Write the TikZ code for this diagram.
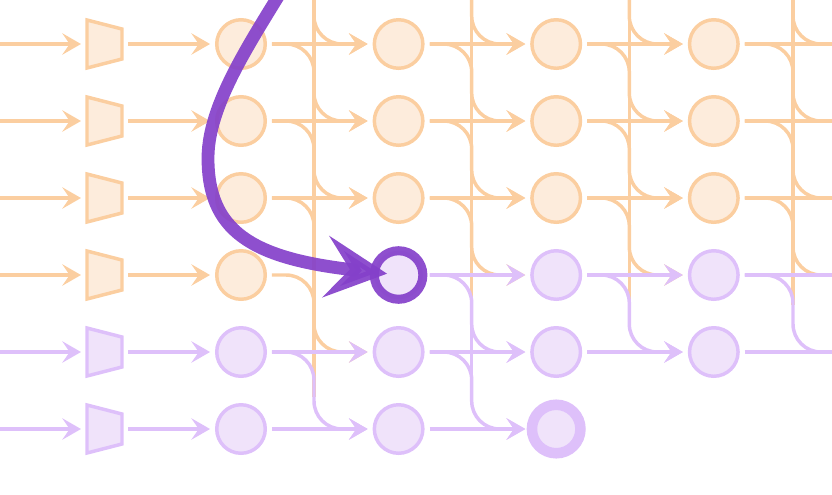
\documentclass[tikz,border=0pt]{standalone}
\usetikzlibrary{arrows.meta}
\definecolor{ostroke}{RGB}{251,206,160}
\definecolor{ofill}{RGB}{253,236,220}
\definecolor{pstroke}{RGB}{222,192,250}
\definecolor{pfill}{RGB}{240,227,250}
\definecolor{dpurple}{RGB}{132,64,202}
\tikzset{
  cbase/.style={circle, minimum size=36.4pt, inner sep=0pt, outer sep=5pt, line width=2.6pt},
  onode/.style={cbase, draw=ostroke, fill=ofill},
  pnode/.style={cbase, draw=pstroke, fill=pfill},
  ringnode/.style={cbase, draw=pstroke, fill=pfill, line width=7.9pt},
  hlnode/.style={cbase, draw=dpurple, draw opacity=0.92, fill=pfill, line width=6.8pt},
  tbox/.style={rectangle, minimum width=26.25pt, minimum height=36pt, inner sep=0pt, outer sep=4.5pt},
  otrapshape/.style={draw=ostroke, fill=ofill, line width=2.6pt, line join=miter},
  ptrapshape/.style={draw=pstroke, fill=pfill, line width=2.6pt, line join=miter},
  conn/.style={line width=2.6pt, -{Stealth[length=14pt,width=16pt,inset=5.5pt]}},
  oarr/.style={conn, draw=ostroke},
  parr/.style={conn, draw=pstroke},
  oline/.style={line width=2.6pt, draw=ostroke},
  pline/.style={line width=2.6pt, draw=pstroke},
  bendy/.style={rounded corners=21pt},
  bigarrow/.style={line width=9.6pt, draw=dpurple, opacity=0.92, line cap=round, -{Stealth[length=46pt,width=46pt,inset=18pt]}, shorten >=8.7pt},
}
\begin{document}
\begin{tikzpicture}[x=0.75pt,y=-0.75pt]
\useasboundingbox (0,0) rectangle (832,494);
\clip (0,0) rectangle (832,494);

% ---------- coordinates ----------
\coordinate (in0) at (-10,44);
\coordinate (in1) at (-10,121);
\coordinate (in2) at (-10,198);
\coordinate (in3) at (-10,275);
\coordinate (in4) at (-10,352);
\coordinate (in5) at (-10,429);
\coordinate (p1) at (260,-33);
\coordinate (p2) at (418,-33);
\coordinate (p3) at (575,-33);
\coordinate (p4) at (733,-33);
\coordinate (c5r0) at (860,44);
\coordinate (c5r1) at (860,121);
\coordinate (c5r2) at (860,198);
\coordinate (c5r3) at (860,275);
\coordinate (c5r4) at (860,352);
\coordinate (v1a) at (314,-5);   \coordinate (v1b) at (314,397);
\coordinate (v2a) at (471.7,-5); \coordinate (v2b) at (471.7,305);
\coordinate (v3a) at (629.3,-5); \coordinate (v3b) at (629.3,305);
\coordinate (v4a) at (793,-5);   \coordinate (v4b) at (793,305);
\coordinate (v2c) at (471.7,300); \coordinate (v2d) at (471.7,405);
\coordinate (bs) at (300,-40);
\coordinate (bm) at (208,158);

% ---------- trapezoids ----------
\node[tbox] (t0) at (104.5,44) {};
\node[tbox] (t1) at (104.5,121) {};
\node[tbox] (t2) at (104.5,198) {};
\node[tbox] (t3) at (104.5,275) {};
\node[tbox] (t4) at (104.5,352) {};
\node[tbox] (t5) at (104.5,429) {};
\foreach \t in {t0,t1,t2,t3}
  \path[otrapshape] (\t.center) ++(-17.5,-24) -- ++(35,9) -- ++(0,30) -- ++(-35,9) -- cycle;
\foreach \t in {t4,t5}
  \path[ptrapshape] (\t.center) ++(-17.5,-24) -- ++(35,9) -- ++(0,30) -- ++(-35,9) -- cycle;

% ---------- circles ----------
\node[onode] (c1r0) at (241,44) {};
\node[onode] (c1r1) at (241,121) {};
\node[onode] (c1r2) at (241,198) {};
\node[onode] (c1r3) at (241,275) {};
\node[pnode] (c1r4) at (241,352) {};
\node[pnode] (c1r5) at (241,429) {};

\node[onode] (c2r0) at (398.6,44) {};
\node[onode] (c2r1) at (398.6,121) {};
\node[onode] (c2r2) at (398.6,198) {};
\node[hlnode] (c2r3) at (398.6,275) {};
\node[pnode] (c2r4) at (398.6,352) {};
\node[pnode] (c2r5) at (398.6,429) {};

\node[onode] (c3r0) at (556.2,44) {};
\node[onode] (c3r1) at (556.2,121) {};
\node[onode] (c3r2) at (556.2,198) {};
\node[pnode] (c3r3) at (556.2,275) {};
\node[pnode] (c3r4) at (556.2,352) {};
\node[ringnode] (c3r5) at (556.2,429) {};

\node[onode] (c4r0) at (713.8,44) {};
\node[onode] (c4r1) at (713.8,121) {};
\node[onode] (c4r2) at (713.8,198) {};
\node[pnode] (c4r3) at (713.8,275) {};
\node[pnode] (c4r4) at (713.8,352) {};

% ---------- orange connectors ----------
\draw[oline] (v1a) -- (v1b);
\draw[oline] (v2a) -- (v2b);
\draw[oline] (v3a) -- (v3b);
\draw[oline] (v4a) -- (v4b);

\draw[oarr] (in0) -- (t0.west);
\draw[oarr] (in1) -- (t1.west);
\draw[oarr] (in2) -- (t2.west);
\draw[oarr] (in3) -- (t3.west);
\draw[oarr] (t0.east) -- (c1r0.west);
\draw[oarr] (t1.east) -- (c1r1.west);
\draw[oarr] (t2.east) -- (c1r2.west);
\draw[oarr] (t3.east) -- (c1r3.west);

\draw[oarr] (c1r0.east) -- (c2r0.west);
\draw[oarr] (c1r1.east) -- (c2r1.west);
\draw[oarr] (c1r2.east) -- (c2r2.west);
\draw[oarr] (c2r0.east) -- (c3r0.west);
\draw[oarr] (c2r1.east) -- (c3r1.west);
\draw[oarr] (c2r2.east) -- (c3r2.west);
\draw[oarr] (c3r0.east) -- (c4r0.west);
\draw[oarr] (c3r1.east) -- (c4r1.west);
\draw[oarr] (c3r2.east) -- (c4r2.west);
\draw[oline] (c4r0.east) -- (c5r0);
\draw[oline] (c4r1.east) -- (c5r1);
\draw[oline] (c4r2.east) -- (c5r2);

% gap 1
\draw[oarr,bendy] (p1) -| (v1a |- c2r0.west) -- (c2r0.west);
\draw[oarr,bendy] (c1r0.east) -| (v1a |- c2r1.west) -- (c2r1.west);
\draw[oarr,bendy] (c1r1.east) -| (v1a |- c2r2.west) -- (c2r2.west);
\draw[oline,bendy] (c1r2.east) -| (v1a |- c2r3.west);
\draw[oarr,bendy] (c1r3.east) -| (v1a |- c2r4.west) -- (c2r4.west);
% gap 2
\draw[oarr,bendy] (p2) -| (v2a |- c3r0.west) -- (c3r0.west);
\draw[oarr,bendy] (c2r0.east) -| (v2a |- c3r1.west) -- (c3r1.west);
\draw[oarr,bendy] (c2r1.east) -| (v2a |- c3r2.west) -- (c3r2.west);
\draw[oarr,bendy] (c2r2.east) -| (v2a |- c3r3.west) -- (c3r3.west);
% gap 3
\draw[oarr,bendy] (p3) -| (v3a |- c4r0.west) -- (c4r0.west);
\draw[oarr,bendy] (c3r0.east) -| (v3a |- c4r1.west) -- (c4r1.west);
\draw[oarr,bendy] (c3r1.east) -| (v3a |- c4r2.west) -- (c4r2.west);
\draw[oarr,bendy] (c3r2.east) -| (v3a |- c4r3.west) -- (c4r3.west);
% gap 4
\draw[oline,bendy] (p4) -| (v4a |- c5r0) -- (c5r0);
\draw[oline,bendy] (c4r0.east) -| (v4a |- c5r1) -- (c5r1);
\draw[oline,bendy] (c4r1.east) -| (v4a |- c5r2) -- (c5r2);
\draw[oline,bendy] (c4r2.east) -| (v4a |- c5r3) -- (c5r3);

% ---------- purple connectors ----------
\draw[parr] (in4) -- (t4.west);
\draw[parr] (in5) -- (t5.west);
\draw[parr] (t4.east) -- (c1r4.west);
\draw[parr] (t5.east) -- (c1r5.west);

\draw[parr] (c1r4.east) -- (c2r4.west);
\draw[parr] (c1r5.east) -- (c2r5.west);
\draw[parr] (c2r3.east) -- (c3r3.west);
\draw[parr] (c2r4.east) -- (c3r4.west);
\draw[parr] (c2r5.east) -- (c3r5.west);
\draw[parr] (c3r3.east) -- (c4r3.west);
\draw[parr] (c3r4.east) -- (c4r4.west);
\draw[pline] (c4r3.east) -- (c5r3);
\draw[pline] (c4r4.east) -- (c5r4);

\draw[pline] (v2c) -- (v2d);
\draw[parr,bendy] (c1r4.east) -| (v1a |- c2r5.west) -- (c2r5.west);
\draw[parr,bendy] (c2r3.east) -| (v2a |- c3r4.west) -- (c3r4.west);
\draw[parr,bendy] (c2r4.east) -| (v2a |- c3r5.west) -- (c3r5.west);
\draw[parr,bendy] (c3r3.east) -| (v3a |- c4r4.west) -- (c4r4.west);
\draw[pline,bendy] (c4r3.east) -| (v4a |- c5r4) -- (c5r4);

% ---------- big arrow ----------
\draw[bigarrow] (bs) .. controls (262,26) and (208,98) .. (bm)
  .. controls (208,230) and (250,258) .. (c2r3.center);
\end{tikzpicture}
\end{document}
